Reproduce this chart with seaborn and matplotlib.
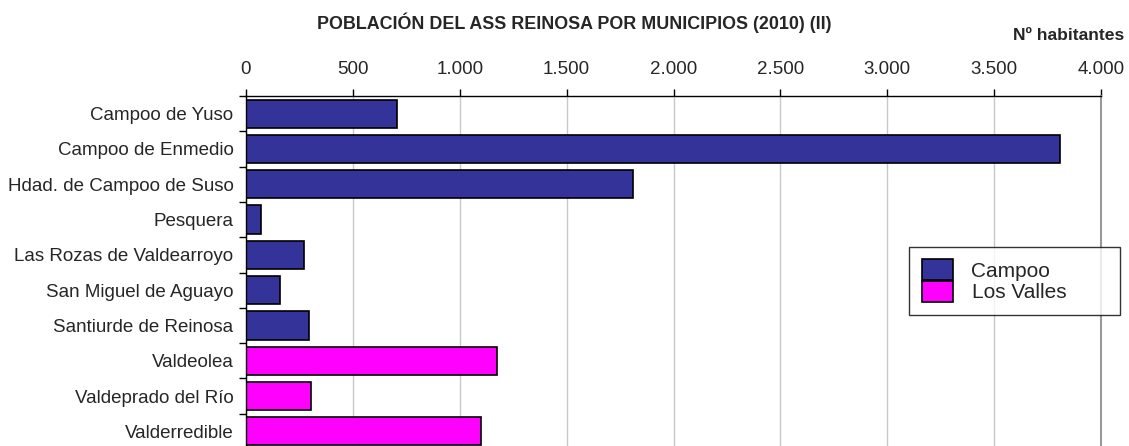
import matplotlib
matplotlib.use("Agg")
import matplotlib.pyplot as plt
from matplotlib.patches import Patch
from matplotlib.ticker import FuncFormatter, MultipleLocator
import numpy as np
import pandas as pd
import seaborn as sns

# Population of the Reinosa social services area by municipality (2010)
municipios = [
    "Campoo de Yuso",
    "Campoo de Enmedio",
    "Hdad. de Campoo de Suso",
    "Pesquera",
    "Las Rozas de Valdearroyo",
    "San Miguel de Aguayo",
    "Santiurde de Reinosa",
    "Valdeolea",
    "Valdeprado del Río",
    "Valderredible",
]
habitantes = [706, 3810, 1811, 70, 271, 158, 293, 1176, 304, 1100]
zonas = ["Campoo"] * 7 + ["Los Valles"] * 3

zona_colores = {"Campoo": "#333399", "Los Valles": "#FF00FF"}

df = pd.DataFrame({"municipio": municipios, "habitantes": habitantes, "zona": zonas})

sns.set_theme(style="white")
plt.rcParams["font.family"] = ["Liberation Sans", "DejaVu Sans"]

W, H = 1129, 446
fig = plt.figure(figsize=(W / 100, H / 100), dpi=100)
ax = fig.add_axes([246 / W, 1 - 449 / H, (1101 - 246) / W, (449 - 96) / H])

sns.barplot(
    data=df, x="habitantes", y="municipio", hue="zona", dodge=False,
    palette=zona_colores, edgecolor="black", linewidth=1.2, width=0.8,
    saturation=1, legend=False, ax=ax,
)

ax.set_xlim(0, 4000)
ax.set_ylim(9.5, -0.5)
ax.xaxis.set_major_locator(MultipleLocator(500))
ax.xaxis.set_major_formatter(FuncFormatter(lambda v, p: f"{int(v):,}".replace(",", ".")))
ax.xaxis.tick_top()
ax.set_xlabel("")
ax.set_ylabel("")

ax.set_axisbelow(True)
ax.xaxis.grid(True, color="#c8c8c8", linewidth=1)
ax.yaxis.grid(False)

for side in ("top", "left"):
    ax.spines[side].set_visible(True)
    ax.spines[side].set_color("black")
    ax.spines[side].set_linewidth(1)
ax.spines["right"].set_color("#999999")
ax.spines["right"].set_linewidth(1.5)
ax.spines["bottom"].set_visible(False)

ax.tick_params(axis="x", which="major", top=True, bottom=False, direction="out",
               length=5, width=1, color="black", labelsize=13.5, pad=8)
ax.tick_params(axis="y", which="major", left=False, length=0, labelsize=13.5, pad=9)
ax.set_yticks(np.arange(-0.5, 10, 1), minor=True)
ax.tick_params(axis="y", which="minor", left=True, direction="out",
               length=5, width=1, color="black")

fig.text(574 / W, 1 - 23 / H, "POBLACIÓN DEL ASS REINOSA POR MUNICIPIOS (2010) (II)",
         ha="center", va="center", fontsize=12.9, fontweight="bold")
fig.text(1124 / W, 1 - 36 / H, "Nº habitantes", ha="right", va="center",
         fontsize=12.6, fontweight="bold")

handles = [Patch(facecolor=zona_colores[z], edgecolor="black", linewidth=1.2)
           for z in ["Campoo", "Los Valles"]]
leg = ax.legend(
    handles, ["Campoo", "Los Valles"],
    loc="upper left", bbox_to_anchor=(909 / W, 1 - 251 / H, (1120 - 909) / W, 0.01),
    bbox_transform=fig.transFigure, mode="expand", borderaxespad=0,
    fontsize=15, handlelength=1.5, handleheight=1.2, labelspacing=0,
    handletextpad=0.9, borderpad=0.6, frameon=True, fancybox=False,
)
leg.get_frame().set_edgecolor("black")
leg.get_frame().set_linewidth(1)

fig.savefig("out.png", dpi=100)
